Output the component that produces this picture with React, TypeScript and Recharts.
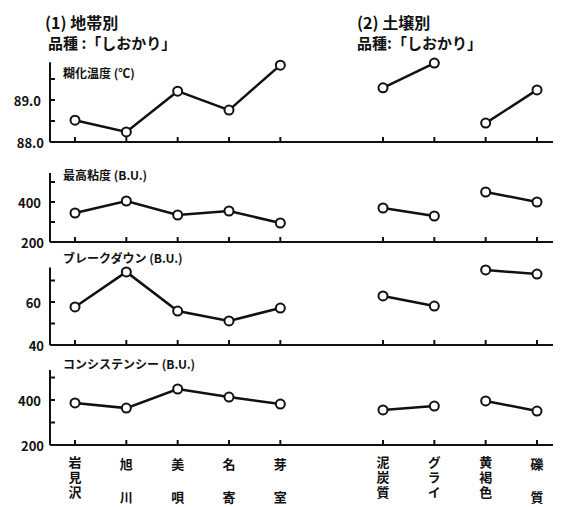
import { LineChart, Line, XAxis, YAxis } from "recharts";

// 地点・土壌の区分（""は地帯別と土壌別の間の空き）
const categories = ["岩見沢", "旭川", "美唄", "名寄", "芽室", "", "泥炭質", "グライ", "黄褐色", "礫質"];

// 糊化温度 (℃)
const gelatTempRegion = [88.52, 88.24, 89.21, 88.76, 89.83];
const gelatTempSoil = [89.29, 89.88, 88.45, 89.24];
const gelatTempTicks = [88, 88.5, 89, 89.5];
const gelatTempTickLabels = ["88.0", "", "89.0", ""];

// 最高粘度 (B.U.)
const maxViscRegion = [345, 405, 335, 355, 295];
const maxViscSoil = [370, 330, 450, 400];
const maxViscTicks = [200, 300, 400, 500];
const maxViscTickLabels = ["200", "", "400", ""];

// ブレークダウン (B.U.)
const breakdownRegion = [57.7, 74.0, 55.8, 51.2, 57.2];
const breakdownSoil = [62.8, 58.1, 74.9, 73.0];
const breakdownTicks = [40, 50, 60, 70];
const breakdownTickLabels = ["40", "", "60", ""];

// コンシステンシー (B.U.)
const consistRegion = [387, 364, 449, 413, 382];
const consistSoil = [356, 373, 396, 351];
const consistTicks = [200, 300, 400, 500];
const consistTickLabels = ["200", "", "400", ""];

const FONT = '"Noto Sans CJK JP", "Noto Sans", sans-serif';
const INK = "#111";

// 地帯別は1本の線、土壌別は2点ずつ別の線にする
function buildRows(region: number[], soil: number[]) {
  return categories.map((name, i) => ({
    name,
    region: i < 5 ? region[i] : null,
    soilA: i === 6 || i === 7 ? soil[i - 6] : null,
    soilB: i === 8 || i === 9 ? soil[i - 6] : null,
  }));
}

function YTick(props: any) {
  const { x, y, payload, tickValues, labels } = props;
  const idx = tickValues.indexOf(payload.value);
  const label = idx >= 0 ? labels[idx] : "";
  const gap = idx === 0 ? 6 : 9;
  return (
    <g>
      <line x1={x} x2={x + 5} y1={y} y2={y} stroke={INK} strokeWidth={2} />
      {label && (
        <text
          x={x - gap}
          y={y}
          textAnchor="end"
          dominantBaseline="central"
          fontSize={13}
          fontWeight={700}
          fontFamily={FONT}
          fill={INK}
        >
          {label}
        </text>
      )}
    </g>
  );
}

const labelProps = { fontSize: 13, fontWeight: 700, fontFamily: FONT, fill: INK };

// 縦書きのカテゴリ名（2文字は上下に離す）
function XTick(props: any) {
  const { x, y, payload, showLabel } = props;
  if (!payload.value) return null;
  const name = String(payload.value);
  let label = null;
  if (showLabel) {
    label =
      name.length === 2 ? (
        <g>
          <text x={x} y={y + 18} textAnchor="middle" dominantBaseline="central" {...labelProps}>{name[0]}</text>
          <text x={x} y={y + 51} textAnchor="middle" dominantBaseline="central" {...labelProps}>{name[1]}</text>
        </g>
      ) : (
        <text x={x} y={y + 11} textAnchor="start" {...labelProps} style={{ writingMode: "vertical-rl", letterSpacing: 2 }}>
          {name}
        </text>
      );
  }
  return (
    <g>
      <line x1={x} x2={x} y1={y} y2={y - 5} stroke={INK} strokeWidth={2} />
      {label}
    </g>
  );
}

type PanelProps = {
  top: number;
  marginTop: number;
  height: number;
  domain: [number, number];
  ticks: number[];
  labels: string[];
  region: number[];
  soil: number[];
  showX?: boolean;
};

function Panel({ top, marginTop, height, domain, ticks, labels, region, soil, showX }: PanelProps) {
  const data = buildRows(region, soil);
  const lineStyle = {
    type: "linear" as const,
    stroke: INK,
    strokeWidth: 2.5,
    dot: { r: 4.5, fill: "#fff", stroke: INK, strokeWidth: 2 },
    activeDot: false,
    connectNulls: false,
    isAnimationActive: false,
  };
  return (
    <div style={{ position: "absolute", left: 0, top }}>
      <LineChart width={564} height={height} data={data} margin={{ top: marginTop, right: 11, left: 0, bottom: 0 }}>
        <XAxis
          dataKey="name"
          interval={0}
          padding={{ left: 25, right: 16 }}
          axisLine={{ stroke: INK, strokeWidth: 2 }}
          tickLine={false}
          tickSize={0}
          tickMargin={0}
          height={showX ? 62 : 10}
          tick={(p: any) => <XTick {...p} showLabel={showX} />}
        />
        <YAxis
          type="number"
          domain={domain}
          ticks={ticks}
          interval={0}
          width={50}
          axisLine={{ stroke: INK, strokeWidth: 2 }}
          tickLine={false}
          tickSize={0}
          tickMargin={0}
          tick={(p: any) => <YTick {...p} tickValues={ticks} labels={labels} />}
        />
        <Line dataKey="region" {...lineStyle} />
        <Line dataKey="soilA" {...lineStyle} />
        <Line dataKey="soilB" {...lineStyle} />
      </LineChart>
    </div>
  );
}

const textStyle = (left: number, top: number, size: number) => ({
  position: "absolute" as const,
  left,
  top,
  fontSize: size,
  lineHeight: 1,
  fontWeight: 700,
  fontFamily: FONT,
  color: INK,
  whiteSpace: "nowrap" as const,
});

export default function App() {
  return (
    <div style={{ position: "absolute", left: 0, top: 0, width: 564, height: 507, background: "#fff" }}>
      <Panel top={52} marginTop={10.2} height={100} domain={[88, 89.9]} ticks={gelatTempTicks} labels={gelatTempTickLabels} region={gelatTempRegion} soil={gelatTempSoil} />
      <Panel top={160} marginTop={13} height={92} domain={[200, 545]} ticks={maxViscTicks} labels={maxViscTickLabels} region={maxViscRegion} soil={maxViscSoil} />
      <Panel top={255} marginTop={12.6} height={100} domain={[40, 76]} ticks={breakdownTicks} labels={breakdownTickLabels} region={breakdownRegion} soil={breakdownSoil} />
      <Panel top={360} marginTop={10.1} height={147} domain={[200, 533]} ticks={consistTicks} labels={consistTickLabels} region={consistRegion} soil={consistSoil} showX />

      <div style={textStyle(45, 14, 16)}>(1) 地帯別</div>
      <div style={textStyle(48, 35, 15)}>品種 :「しおかり」</div>
      <div style={textStyle(357, 14, 16)}>(2) 土壌別</div>
      <div style={textStyle(357, 35, 15)}>品種:「しおかり」</div>

      <div style={textStyle(63, 67, 12)}>糊化温度 (℃)</div>
      <div style={textStyle(63, 169, 12)}>最高粘度 (B.U.)</div>
      <div style={textStyle(63, 252, 12)}>ブレークダウン (B.U.)</div>
      <div style={textStyle(63, 358, 12)}>コンシステンシー (B.U.)</div>
    </div>
  );
}
